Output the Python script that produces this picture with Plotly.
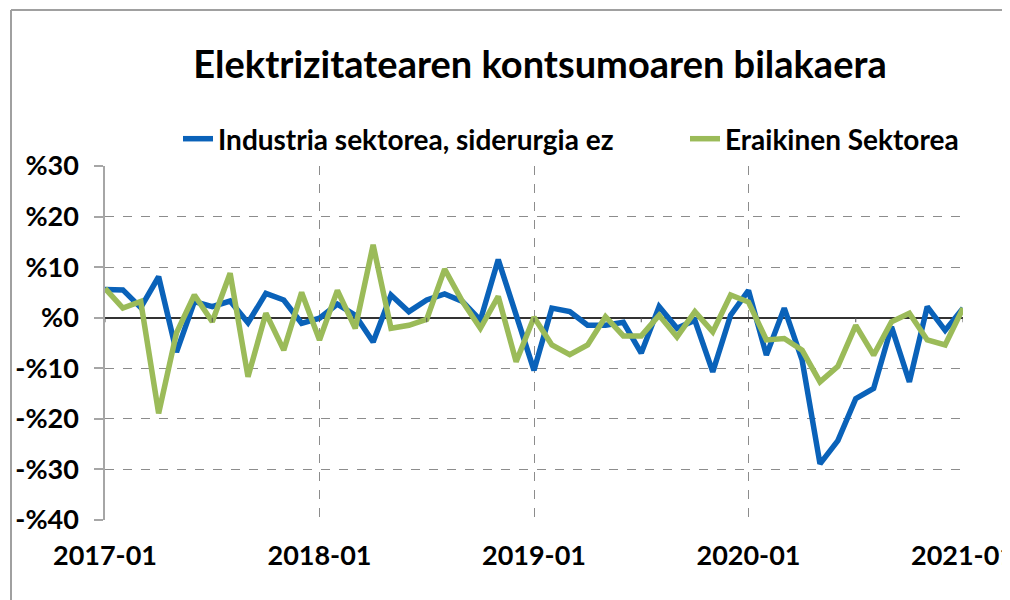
import plotly.graph_objects as go

months = [f"{y}-{m:02d}" for y in range(2017, 2021) for m in range(1, 13)] + ["2021-01"]

industria = [5.6, 5.5, 2.0, 8.1, -6.8, 3.2, 2.2, 3.3, -1.0, 4.8, 3.5, -1.1,
             -0.1, 2.7, 0.5, -4.8, 4.5, 1.2, 3.5, 4.7, 3.2, -0.5, 11.5, 0.6,
             -10.4, 1.9, 1.2, -1.5, -1.5, -0.9, -7.0, 2.2, -2.1, -0.5, -10.7, 0.5,
             5.4, -7.4, 1.9, -8.4, -28.9, -24.3, -16.0, -14.0, -1.8, -12.7, 2.2, -2.5,
             1.9]
eraikinen = [5.8, 1.9, 3.2, -18.9, -3.0, 4.5, -0.8, 8.8, -11.7, 0.9, -6.4, 5.0,
             -4.4, 5.4, -2.1, 14.4, -2.1, -1.5, -0.3, 9.6, 3.2, -2.1, 4.2, -8.7,
             0.1, -5.4, -7.3, -5.4, 0.2, -3.6, -3.6, 0.5, -3.8, 1.2, -2.8, 4.5,
             3.1, -4.4, -4.1, -6.4, -12.7, -9.6, -1.5, -7.4, -0.8, 0.9, -4.4, -5.4,
             1.9]

year_ticks = ["2017-01", "2018-01", "2019-01", "2020-01", "2021-01"]
half_ticks = months[::6]
y_vals = [30, 20, 10, 0, -10, -20, -30, -40]
y_text = ["%30", "%20", "%10", "%0", "-%10", "-%20", "-%30", "-%40"]

FONT = "Lato"
OFF = 8  # page body margin

# plot area in window pixels (reference)
L, R, T, B = 105 - OFF, 963 - OFF, 166 - OFF, 520 - OFF
def px(xw):
    return (xw - OFF - L) / (R - L)
def py(yw):
    return (B - (yw - OFF)) / (B - T)

fig = go.Figure()
fig.add_trace(go.Scatter(x=months, y=industria, mode="lines",
                         name="<b>Industria sektorea, siderurgia ez</b>",
                         line=dict(color="#0A62B9", width=5.5), legend="legend"))
fig.add_trace(go.Scatter(x=months, y=eraikinen, mode="lines",
                         name="<b>Eraikinen Sektorea</b>",
                         line=dict(color="#9BBB59", width=5.5), legend="legend2"))

# small tick marks on the zero line (category axis crossing at 0)
for m in half_ticks:
    fig.add_shape(type="line", xref="x", yref="y", x0=m, x1=m, y0=0, y1=-0.9,
                  line=dict(color="#555555", width=1), layer="above")

# outer frame
frame = dict(color="#A0A0A0", width=2)
fig.add_shape(type="line", xref="paper", yref="paper", x0=px(11), x1=px(11), y0=py(10), y1=py(620), line=frame)
fig.add_shape(type="line", xref="paper", yref="paper", x0=px(11), x1=px(1020), y0=py(10), y1=py(10), line=frame)

leg_font = dict(family=FONT, size=28, color="black")
fig.update_layout(
    width=1010, height=600,
    margin=dict(l=L, r=1010 - R, t=T, b=600 - B, autoexpand=False),
    paper_bgcolor="white", plot_bgcolor="white",
    font=dict(family=FONT, color="black"),
    title=dict(text="<b>Elektrizitatearen kontsumoaren bilakaera</b>",
               font=dict(family=FONT, size=38, color="black"),
               x=px(540), xref="paper", xanchor="center",
               y=1 - (65 - OFF) / 600, yref="container", yanchor="middle"),
    legend=dict(orientation="h", x=px(178), xanchor="left", y=py(139), yanchor="middle",
                font=leg_font, bgcolor="rgba(0,0,0,0)"),
    legend2=dict(orientation="h", x=px(685), xanchor="left", y=py(139), yanchor="middle",
                 font=leg_font, bgcolor="rgba(0,0,0,0)"),
    showlegend=True,
)
fig.update_xaxes(type="category", range=[0, len(months) - 1],
                 tickvals=year_ticks, ticktext=["<b>%s</b>" % t for t in year_ticks],
                 tickfont=dict(family=FONT, size=27, color="black"),
                 showgrid=True, gridcolor="#8C8C8C", griddash="dash", gridwidth=1,
                 showline=False, zeroline=False, ticks="", ticklabelstandoff=17)
fig.update_yaxes(range=[-40, 30], tickvals=y_vals, ticktext=["<b>%s</b>" % t for t in y_text],
                 tickfont=dict(family=FONT, size=27, color="black"),
                 showgrid=True, gridcolor="#8C8C8C", griddash="dash", gridwidth=1,
                 zeroline=True, zerolinecolor="#333333", zerolinewidth=1.5,
                 showline=True, linecolor="#A6A6A6", linewidth=1.5,
                 ticks="outside", ticklen=9, tickcolor="#A6A6A6", tickwidth=1.5,
                 ticklabelstandoff=10)

fig.write_html("out.html")
